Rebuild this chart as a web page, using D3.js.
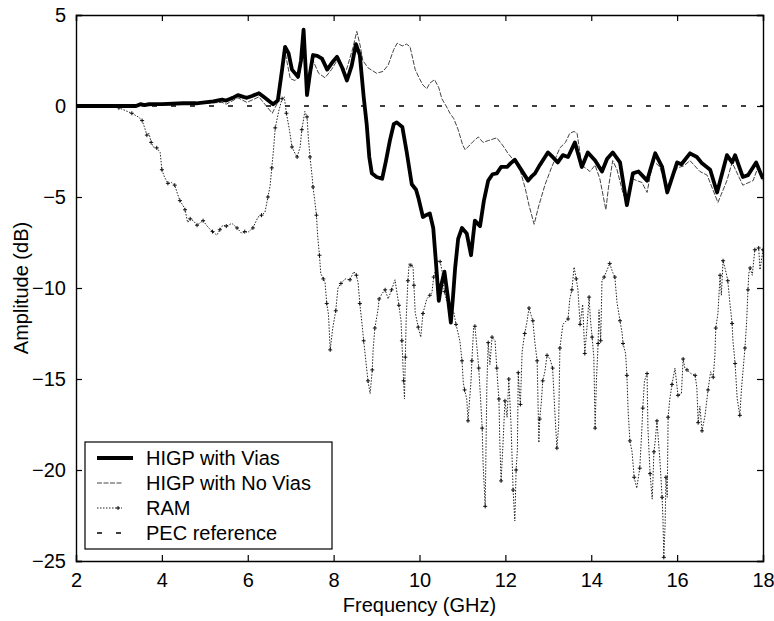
<!DOCTYPE html>
<html>
<head>
<meta charset="utf-8">
<script src="https://cdn.jsdelivr.net/npm/d3@7"></script>
<style>
  html, body { margin: 0; padding: 0; background: #fff; }
  svg { display: block; }
  text { font-family: "Liberation Sans", Arial, Helvetica, sans-serif; fill: #000; }
</style>
</head>
<body>
<svg id="chart" width="774" height="621"></svg>
<script>
// ---------- data ----------
const xTicks = [2, 4, 6, 8, 10, 12, 14, 16, 18];
const yTicks = [-25, -20, -15, -10, -5, 0, 5];
const xLabel = "Frequency (GHz)";
const yLabel = "Amplitude (dB)";
const seriesNames = ["HIGP with Vias", "HIGP with No Vias", "RAM", "PEC reference"];

const viasFreq = [2.0,2.5,3.0,3.4,3.5,3.6,3.7,4.0,4.5,4.8,5.0,5.2,5.4,5.5,5.65,5.77,5.9,5.98,6.1,6.26,6.4,6.59,6.7,6.8,6.87,6.95,7.03,7.17,7.24,7.3,7.35,7.38,7.45,7.52,7.62,7.73,7.85,7.97,8.08,8.2,8.31,8.42,8.52,8.61,8.7,8.77,8.83,8.89,9.0,9.13,9.22,9.31,9.4,9.47,9.6,9.7,9.82,9.92,9.98,10.08,10.15,10.24,10.32,10.38,10.45,10.51,10.58,10.66,10.73,10.78,10.83,10.9,10.99,11.1,11.2,11.29,11.41,11.5,11.6,11.7,11.8,11.9,12.04,12.12,12.22,12.34,12.53,12.62,12.69,12.8,12.99,13.1,13.22,13.34,13.46,13.62,13.78,13.92,14.09,14.25,14.37,14.5,14.67,14.83,14.97,15.1,15.18,15.3,15.49,15.65,15.77,16.0,16.1,16.3,16.46,16.58,16.77,16.93,17.16,17.28,17.35,17.53,17.65,17.84,18.0];
const viasAmp = [0,0,0,0,0.1,0.05,0.1,0.1,0.15,0.15,0.2,0.25,0.35,0.3,0.45,0.6,0.5,0.45,0.55,0.7,0.45,0.1,0.3,2.0,3.25,2.9,2.0,1.6,2.5,4.2,2.0,0.6,1.8,2.8,2.75,2.6,2.0,2.4,2.7,2.1,1.4,2.2,3.4,2.8,0.5,-1.0,-2.8,-3.7,-3.9,-4.0,-3.0,-1.9,-1.0,-0.9,-1.15,-2.5,-4.3,-4.6,-5.1,-6.1,-6.0,-5.9,-6.7,-8.5,-10.7,-9.8,-9.1,-10.5,-11.9,-10.5,-8.9,-7.3,-6.7,-7.0,-8.2,-6.3,-6.6,-5.2,-4.1,-3.75,-3.7,-3.35,-3.35,-3.15,-2.95,-3.4,-4.1,-3.85,-3.7,-3.25,-2.55,-2.8,-3.1,-2.7,-2.8,-2.0,-3.35,-2.55,-3.0,-3.6,-2.9,-2.55,-3.1,-5.45,-3.7,-3.6,-3.8,-4.1,-2.6,-3.35,-4.75,-3.1,-3.2,-2.6,-2.8,-3.15,-3.5,-4.75,-2.7,-3.1,-2.7,-3.9,-3.8,-3.1,-4.0];

const noViasFreq = [2.0,3.4,3.6,4.0,4.5,5.0,5.4,5.5,5.77,5.98,6.26,6.57,6.7,6.87,6.99,7.1,7.2,7.3,7.38,7.52,7.65,7.8,7.95,8.08,8.2,8.3,8.45,8.54,8.62,8.68,8.8,9.0,9.15,9.27,9.4,9.48,9.6,9.7,9.78,9.9,10.0,10.08,10.17,10.24,10.35,10.45,10.52,10.62,10.71,10.8,10.9,11.0,11.06,11.15,11.25,11.37,11.48,11.6,11.8,11.95,12.06,12.2,12.34,12.46,12.55,12.67,12.77,12.92,13.08,13.27,13.4,13.5,13.6,13.67,13.78,13.97,14.09,14.2,14.34,14.4,14.5,14.6,14.74,14.83,14.97,15.06,15.18,15.3,15.44,15.6,15.75,16.0,16.15,16.3,16.53,16.7,16.95,17.16,17.28,17.53,17.77,17.9,18.0];
const noViasAmp = [0,0,0,0.05,0.1,0.15,0.2,0.1,0.45,0.2,0.5,-0.4,0.2,2.95,1.5,1.4,1.6,3.5,0.6,2.5,1.8,1.55,2.0,2.5,2.1,2.0,3.2,4.1,3.3,2.5,2.1,1.8,1.9,2.25,3.1,3.45,3.3,3.4,3.25,2.0,1.5,1.15,0.95,1.25,1.45,1.0,0.4,0.0,-0.4,-0.7,-1.3,-2.1,-2.4,-2.2,-1.95,-1.7,-2.0,-1.9,-1.75,-2.2,-2.6,-3.0,-3.5,-4.5,-5.45,-6.5,-5.55,-4.35,-3.35,-2.3,-2.0,-1.5,-1.4,-1.5,-3.25,-3.6,-3.25,-4.0,-5.7,-4.5,-3.0,-3.5,-4.8,-5.3,-4.0,-4.1,-4.2,-4.75,-3.0,-3.35,-4.5,-3.4,-3.3,-3.0,-3.6,-3.8,-5.3,-4.1,-3.1,-4.35,-4.1,-3.25,-4.1];

const ramFreq = [2.0,2.5,3.0,3.1,3.3,3.45,3.54,3.6,3.65,3.7,3.75,3.8,3.88,3.96,4.0,4.06,4.14,4.22,4.3,4.36,4.42,4.5,4.54,4.6,4.66,4.73,4.82,4.9,4.96,5.07,5.18,5.28,5.35,5.42,5.5,5.63,5.75,5.86,5.93,6.0,6.12,6.24,6.32,6.4,6.47,6.52,6.56,6.6,6.64,6.72,6.8,6.85,6.9,6.97,7.03,7.1,7.15,7.22,7.26,7.33,7.38,7.41,7.45,7.5,7.52,7.56,7.6,7.63,7.67,7.7,7.76,7.8,7.84,7.88,7.92,7.98,8.05,8.1,8.17,8.27,8.38,8.47,8.53,8.57,8.61,8.66,8.7,8.75,8.8,8.85,8.9,8.92,8.96,9.03,9.06,9.13,9.2,9.27,9.35,9.43,9.52,9.57,9.59,9.61,9.63,9.65,9.67,9.69,9.73,9.76,9.8,9.85,9.87,9.9,9.97,10.03,10.08,10.17,10.24,10.29,10.33,10.43,10.48,10.52,10.58,10.63,10.7,10.8,10.85,10.94,10.99,11.02,11.05,11.1,11.13,11.2,11.22,11.26,11.29,11.34,11.38,11.42,11.46,11.48,11.53,11.57,11.6,11.64,11.69,11.76,11.8,11.83,11.85,11.87,11.9,11.94,11.99,12.04,12.08,12.13,12.18,12.22,12.25,12.28,12.3,12.32,12.35,12.39,12.45,12.5,12.55,12.6,12.64,12.69,12.74,12.78,12.8,12.84,12.87,12.92,12.97,13.04,13.1,13.15,13.2,13.24,13.27,13.34,13.46,13.5,13.55,13.6,13.65,13.69,13.74,13.8,13.85,13.9,13.95,13.98,14.02,14.06,14.09,14.12,14.16,14.18,14.22,14.25,14.3,14.37,14.43,14.5,14.55,14.6,14.67,14.72,14.74,14.8,14.83,14.86,14.9,14.95,15.0,15.06,15.13,15.18,15.2,15.24,15.3,15.32,15.37,15.42,15.46,15.49,15.53,15.6,15.65,15.67,15.69,15.72,15.74,15.77,15.79,15.83,15.88,15.95,16.02,16.1,16.14,16.18,16.23,16.32,16.42,16.46,16.49,16.53,16.58,16.65,16.72,16.78,16.84,16.88,16.9,16.95,17.0,17.03,17.07,17.14,17.18,17.23,17.28,17.3,17.35,17.4,17.46,17.5,17.58,17.62,17.65,17.67,17.7,17.75,17.81,17.86,17.9,17.93,18.0];
const ramAmp = [0,0,-0.1,-0.2,-0.4,-0.6,-0.8,-1.2,-1.6,-1.5,-2.0,-2.25,-2.3,-2.55,-3.5,-3.9,-4.25,-4.2,-4.35,-4.8,-5.2,-5.5,-5.7,-6.4,-6.2,-6.3,-6.55,-6.4,-6.3,-6.65,-6.9,-7.1,-6.8,-6.55,-6.6,-6.45,-6.7,-7.0,-6.9,-6.95,-6.7,-6.1,-6.0,-5.85,-5.0,-4.4,-3.4,-2.4,-1.2,-0.3,0.4,0.5,-0.4,-1.3,-2.25,-2.6,-2.8,-2.25,-1.3,-0.3,-0.6,-1.7,-2.8,-3.9,-4.45,-5.2,-6.0,-7.2,-8.2,-9.2,-9.5,-9.7,-10.85,-11.45,-13.4,-12.2,-11.25,-10.0,-9.75,-9.5,-9.55,-9.1,-9.3,-9.7,-10.85,-11.95,-12.9,-14.0,-15.1,-15.8,-14.5,-13.4,-12.2,-11.25,-10.6,-10.3,-10.1,-10.6,-10.1,-9.55,-10.95,-11.8,-12.9,-14.0,-15.1,-16.1,-13.8,-11.7,-9.6,-8.65,-8.75,-8.85,-9.85,-11.35,-12.15,-12.7,-11.4,-10.6,-10.4,-10.25,-9.4,-8.5,-8.55,-9.0,-10.2,-10.7,-11.0,-11.35,-12.0,-12.9,-14.0,-15.2,-15.6,-16.1,-17.3,-15.1,-14.0,-12.2,-12.1,-13.3,-14.4,-16.0,-17.7,-19.6,-22.0,-15.25,-13.0,-14.2,-12.7,-12.9,-14.4,-15.5,-16.1,-18.4,-20.6,-18.8,-16.2,-17.1,-15.0,-17.4,-21.1,-22.8,-20.0,-18.9,-14.65,-15.5,-16.4,-13.5,-12.5,-11.9,-11.1,-11.5,-11.8,-13.05,-14.0,-18.5,-17.2,-16.2,-15.1,-14.6,-13.7,-13.9,-14.4,-16.7,-18.8,-17.6,-13.3,-12.0,-11.7,-10.6,-10.1,-8.85,-9.5,-10.1,-12.0,-10.9,-13.6,-12.2,-10.5,-11.7,-12.7,-13.8,-17.7,-15.1,-13.05,-11.2,-12.9,-9.6,-9.4,-9.0,-8.65,-9.15,-9.4,-10.8,-11.8,-12.5,-13.05,-13.6,-14.8,-16.8,-18.4,-19.0,-20.4,-21.0,-19.9,-17.7,-16.6,-15.1,-14.7,-17.7,-20.2,-21.6,-19.0,-18.4,-17.3,-19.5,-21.5,-22.7,-24.8,-23.0,-20.4,-21.5,-17.1,-16.1,-15.3,-14.4,-15.9,-15.8,-13.9,-14.4,-14.5,-14.7,-14.8,-15.5,-17.4,-16.5,-17.85,-17.0,-15.6,-14.6,-14.9,-13.7,-12.2,-11.4,-9.3,-10.4,-8.5,-9.15,-9.6,-10.85,-11.95,-12.9,-14.15,-16.1,-17.0,-15.5,-13.3,-11.8,-10.1,-9.2,-8.9,-9.3,-7.9,-7.9,-7.8,-9.0,-7.9];

const pecFreq = [2, 18];
const pecAmp = [0, 0];

// ---------- layout ----------
const svg = d3.select("#chart");
const margin = { left: 76, right: 11, top: 15, bottom: 60 };
const W = 774, H = 621;
const x = d3.scaleLinear().domain([2, 18]).range([margin.left, W - margin.right]);
const y = d3.scaleLinear().domain([-25, 5]).range([H - margin.bottom, margin.top]);
const FONT = 20;

const zip = (fs, as) => fs.map((f, i) => [f, as[i]]);
const line = d3.line().x(d => x(d[0])).y(d => y(d[1]));

const clipId = "plotclip";
svg.append("clipPath").attr("id", clipId).append("rect")
  .attr("x", x(2)).attr("y", y(5)).attr("width", x(18) - x(2)).attr("height", y(-25) - y(5));

const plot = svg.append("g").attr("clip-path", `url(#${clipId})`);

// PEC reference
plot.append("path").datum(zip(pecFreq, pecAmp))
  .attr("d", line).attr("fill", "none").attr("stroke", "#000")
  .attr("stroke-width", 1.3).attr("stroke-dasharray", "5,14");

// RAM
const ramData = zip(ramFreq, ramAmp);
plot.append("path").datum(ramData)
  .attr("d", line).attr("fill", "none").attr("stroke", "#222")
  .attr("stroke-width", 1).attr("stroke-dasharray", "1.5,1.5");
plot.append("g").selectAll("path").data(ramData.filter((d, i) => i % 2 === 0 && d[0] > 2.9))
  .join("path")
  .attr("d", d => `M${x(d[0]) - 2},${y(d[1])}h4M${x(d[0])},${y(d[1]) - 2}v4`)
  .attr("stroke", "#111").attr("stroke-width", 1);

// No vias
plot.append("path").datum(zip(noViasFreq, noViasAmp))
  .attr("d", line).attr("fill", "none").attr("stroke", "#444")
  .attr("stroke-width", 1).attr("stroke-dasharray", "5,1.5");

// Vias
plot.append("path").datum(zip(viasFreq, viasAmp))
  .attr("d", line).attr("fill", "none").attr("stroke", "#000")
  .attr("stroke-width", 3.8).attr("stroke-linejoin", "round");

// ---------- axes ----------
const tickLen = 6;
const axG = svg.append("g");
axG.append("g").attr("transform", `translate(0,${y(-25)})`)
  .call(d3.axisBottom(x).tickValues(xTicks).tickSize(-tickLen).tickPadding(12).tickFormat(d3.format("d")));
axG.append("g").attr("transform", `translate(0,${y(5)})`)
  .call(d3.axisTop(x).tickValues(xTicks).tickSize(-tickLen).tickFormat(""));
axG.append("g").attr("transform", `translate(${x(2)},0)`)
  .call(d3.axisLeft(y).tickValues(yTicks).tickSize(-tickLen).tickPadding(10).tickFormat(d3.format("d")));
axG.append("g").attr("transform", `translate(${x(18)},0)`)
  .call(d3.axisRight(y).tickValues(yTicks).tickSize(-tickLen).tickFormat(""));
axG.selectAll(".domain").attr("stroke", "#000").attr("stroke-width", 1.4);
axG.selectAll(".tick line").attr("stroke", "#000").attr("stroke-width", 1.2);
axG.selectAll(".tick text").attr("font-size", FONT)
  .attr("font-family", '"Liberation Sans", Arial, Helvetica, sans-serif').attr("fill", "#000");

// axis labels
svg.append("text").attr("x", (x(2) + x(18)) / 2).attr("y", 612)
  .attr("text-anchor", "middle").attr("font-size", FONT).text(xLabel);
svg.append("text").attr("transform", `translate(28,${(y(5) + y(-25)) / 2}) rotate(-90)`)
  .attr("text-anchor", "middle").attr("font-size", FONT).text(yLabel);

// ---------- legend ----------
const lg = svg.append("g");
lg.append("rect").attr("x", 85).attr("y", 442).attr("width", 247).attr("height", 107)
  .attr("fill", "#fff").attr("stroke", "#000").attr("stroke-width", 1.2);
const rowY = [458, 483, 508, 533];
const styles = [
  { w: 3.8, dash: null, c: "#000", x2: 133 },
  { w: 1, dash: "5,1.5", c: "#444", x2: 122 },
  { w: 1, dash: "1.5,1.5", c: "#222", x2: 122, marker: true },
  { w: 1.3, dash: "5,14", c: "#000", x2: 125 }
];
seriesNames.forEach((name, i) => {
  const s = styles[i];
  const ln = lg.append("line").attr("x1", 97).attr("x2", s.x2)
    .attr("y1", rowY[i]).attr("y2", rowY[i]).attr("stroke", s.c).attr("stroke-width", s.w);
  if (s.dash) ln.attr("stroke-dasharray", s.dash);
  if (s.marker) {
    lg.append("path").attr("d", `M${118 - 2},${rowY[i]}h4M118,${rowY[i] - 2}v4`)
      .attr("stroke", "#111").attr("stroke-width", 1);
  }
  lg.append("text").attr("x", 146).attr("y", rowY[i] + 7).attr("font-size", FONT).text(name);
});
</script>
</body>
</html>
